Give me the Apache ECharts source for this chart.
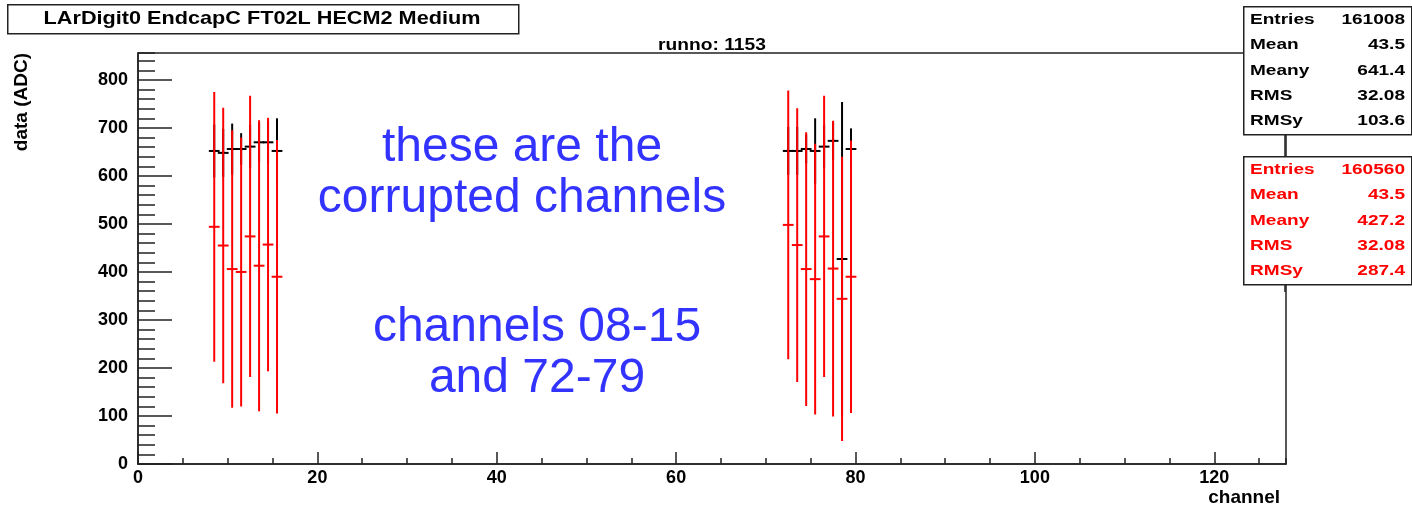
<!DOCTYPE html>
<html>
<head>
<meta charset="utf-8">
<title>LArDigit0 EndcapC FT02L HECM2 Medium</title>
<script src="https://cdn.jsdelivr.net/npm/echarts@6/dist/echarts.min.js"></script>
<style>
  html, body { margin: 0; padding: 0; background: #fff; }
  #main { width: 1412px; height: 507px; }
</style>
</head>
<body>
<div id="main"></div>
<script>
// channels that have entries (left block 08-15, right block 72-79)
var channels = [8, 9, 10, 11, 12, 13, 14, 15, 72, 73, 74, 75, 76, 77, 78, 79];

// black profile (first run) : mean and spread per channel
var blackMean = [652, 648, 656, 656, 661, 670, 670, 652, 652, 652, 656, 652, 661, 673, 427, 656];
var blackErr  = [55, 50, 53, 33, 45, 40, 45, 68, 50, 50, 30, 68, 45, 40, 327, 43];

// red profile (corrupted) : mean and spread per channel
var redMean = [494, 455, 406, 400, 474, 413, 457, 390, 498, 456, 406, 385, 474, 407, 344, 390];
var redErr  = [281, 287, 289, 280, 293, 303, 264, 285, 280, 285, 285, 282, 293, 308, 296, 284];

// stats boxes
var statNames = ['Entries', 'Mean', 'Meany', 'RMS', 'RMSy'];
var blackStats = ['161008', '43.5', '641.4', '32.08', '103.6'];
var redStats = ['160560', '43.5', '427.2', '32.08', '287.4'];

var noteLines = ['these are the', 'corrupted channels', 'channels 08-15', 'and 72-79'];

var FONT = '"Liberation Sans", Arial, Helvetica, sans-serif';

function profileData(mean, err) {
    return channels.map(function (c, i) {
        return [c + 0.5, mean[i], err[i]];
    });
}

function makeRender(color) {
    return function (params, api) {
        var x = api.value(0), m = api.value(1), e = api.value(2);
        var a = api.coord([x - 0.6, m]);
        var b = api.coord([x + 0.6, m]);
        var top = api.coord([x, m + e]);
        var bot = api.coord([x, m - e]);
        return {
            type: 'group',
            children: [
                { type: 'line', shape: { x1: top[0], y1: top[1], x2: bot[0], y2: bot[1] },
                  style: { stroke: color, lineWidth: 2 } },
                { type: 'line', shape: { x1: a[0], y1: a[1], x2: b[0], y2: b[1] },
                  style: { stroke: color, lineWidth: 2 } }
            ]
        };
    };
}

var myChart = echarts.init(document.getElementById('main'));

// annotation texts
var graphics = [];

// title box
graphics.push({
    type: 'rect', left: 7, top: 4,
    shape: { width: 511, height: 29 },
    style: { fill: '#fff', stroke: '#222', lineWidth: 1.5 }, z: 10
});
graphics.push({
    type: 'text', x: 262, y: 19, scaleX: 1.14, z: 11,
    style: { text: 'LArDigit0 EndcapC FT02L HECM2 Medium', font: 'bold 19px ' + FONT,
             fill: '#000', textAlign: 'center', textVerticalAlign: 'middle' }
});
// runno
graphics.push({
    type: 'text', x: 712, y: 46, scaleX: 1.2, z: 11,
    style: { text: 'runno: 1153', font: 'bold 16px ' + FONT, fill: '#000',
             textAlign: 'center', textVerticalAlign: 'middle' }
});
// axis titles
graphics.push({
    type: 'text', x: 22, y: 53, rotation: Math.PI / 2, z: 11,
    style: { text: 'data (ADC)', font: 'bold 19px ' + FONT, fill: '#000',
             textAlign: 'right', textVerticalAlign: 'middle' }
});
graphics.push({
    type: 'text', x: 1280, y: 498, z: 11,
    style: { text: 'channel', font: 'bold 19px ' + FONT, fill: '#000',
             textAlign: 'right', textVerticalAlign: 'middle' }
});

// stats boxes
function statBox(top, color, values) {
    graphics.push({
        type: 'rect', left: 1243, top: top,
        shape: { width: 168, height: 128 },
        style: { fill: '#fff', stroke: '#222', lineWidth: 1.5 }, z: 10
    });
    for (var i = 0; i < statNames.length; i++) {
        var y = top + 14 + i * 25.3;
        graphics.push({
            type: 'text', x: 1250, y: y, scaleX: 1.27, z: 11,
            style: { text: statNames[i], font: 'bold 15px ' + FONT, fill: color,
                     textAlign: 'left', textVerticalAlign: 'middle' }
        });
        graphics.push({
            type: 'text', x: 1405, y: y, scaleX: 1.27, z: 11,
            style: { text: values[i], font: 'bold 15px ' + FONT, fill: color,
                     textAlign: 'right', textVerticalAlign: 'middle' }
        });
    }
}
// connector line on the frame between/below boxes
graphics.push({
    type: 'line', z: 9,
    shape: { x1: 1285, y1: 134, x2: 1285, y2: 292 },
    style: { stroke: '#222', lineWidth: 1.5 }
});
statBox(6, '#000', blackStats);
statBox(156, '#ff0000', redStats);

// blue notes
var notePos = [[522, 148], [522, 199], [537, 328], [537, 379]];
noteLines.forEach(function (t, i) {
    graphics.push({
        type: 'text', x: notePos[i][0], y: notePos[i][1], z: 12,
        style: { text: t, font: '48px ' + FONT, fill: '#3333ff',
                 textAlign: 'center', textVerticalAlign: 'middle' }
    });
});

var labelStyle = { fontFamily: FONT, fontWeight: 'bold', fontSize: 18, color: '#000' };

var option = {
    animation: false,
    backgroundColor: '#fff',
    grid: {
        left: 138, right: 126, top: 53, bottom: 43,
        show: true, borderColor: '#222', borderWidth: 1.5, backgroundColor: '#fff'
    },
    xAxis: [
        {
            type: 'value', min: 0, max: 128, interval: 20,
            axisLine: { show: true, lineStyle: { color: '#222', width: 1.5 } },
            axisTick: { show: true, inside: true, length: 12, lineStyle: { color: '#222', width: 1.5 } },
            axisLabel: Object.assign({ margin: 5, showMaxLabel: false }, labelStyle),
            splitLine: { show: false }
        },
        {
            type: 'value', min: 0, max: 128, interval: 5, position: 'bottom', offset: 0,
            axisLine: { show: false },
            axisTick: { show: true, inside: true, length: 6, lineStyle: { color: '#222', width: 1.5 } },
            axisLabel: { show: false },
            splitLine: { show: false }
        }
    ],
    yAxis: [
        {
            type: 'value', min: 0, max: 856, interval: 100, position: 'left',
            axisLine: { show: true, lineStyle: { color: '#222', width: 1.5 } },
            axisTick: { show: true, inside: true, length: 34, lineStyle: { color: '#222', width: 1.5 } },
            axisLabel: Object.assign({ margin: 10, showMaxLabel: false }, labelStyle),
            splitLine: { show: false }
        },
        {
            type: 'value', min: 0, max: 856, interval: 20, position: 'left', offset: 0,
            axisLine: { show: false },
            axisTick: { show: true, inside: true, length: 17, lineStyle: { color: '#222', width: 1.5 } },
            axisLabel: { show: false },
            splitLine: { show: false }
        }
    ],
    series: [
        {
            name: 'black', type: 'custom',
            xAxisIndex: 0, yAxisIndex: 0,
            renderItem: makeRender('#000'),
            encode: { x: 0, y: 1 },
            data: profileData(blackMean, blackErr),
            z: 2
        },
        {
            name: 'red', type: 'custom',
            xAxisIndex: 0, yAxisIndex: 0,
            renderItem: makeRender('#ff0000'),
            encode: { x: 0, y: 1 },
            data: profileData(redMean, redErr),
            z: 3
        }
    ],
    graphic: graphics
};

myChart.setOption(option);
</script>
</body>
</html>
